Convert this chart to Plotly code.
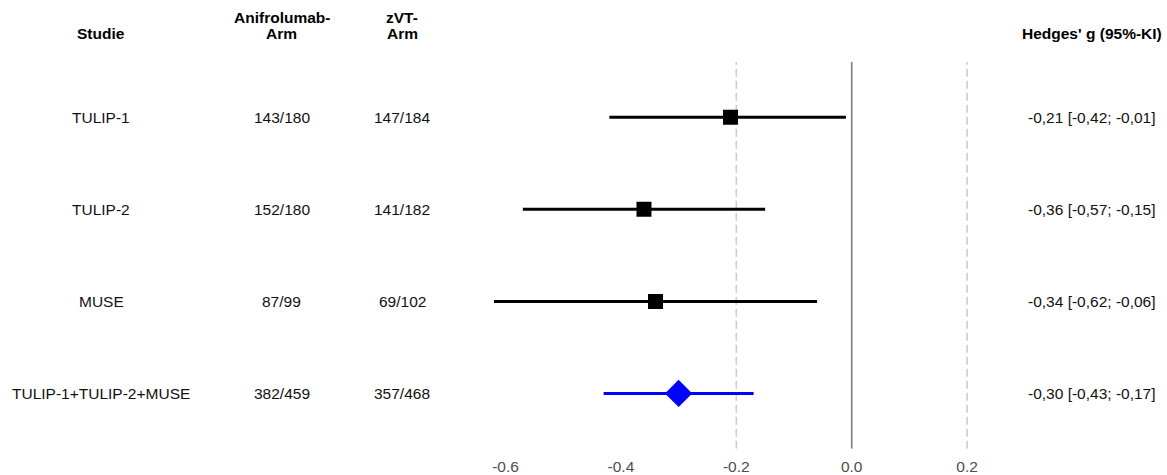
import plotly.graph_objects as go

# Forest plot: anifrolumab vs. zVT, Hedges' g with 95% CI
studies = ["TULIP-1", "TULIP-2", "MUSE", "TULIP-1+TULIP-2+MUSE"]
anifro_arm = ["143/180", "152/180", "87/99", "382/459"]
zvt_arm = ["147/184", "141/182", "69/102", "357/468"]
hedges_g = [-0.21, -0.36, -0.34, -0.30]
ci_low = [-0.42, -0.57, -0.62, -0.43]
ci_high = [-0.01, -0.15, -0.06, -0.17]
is_pooled = [False, False, False, True]

x_ticks = [-0.6, -0.4, -0.2, 0.0, 0.2]
ref_dashed = [-0.2, 0.2]

FONT = "Liberation Sans, Arial, sans-serif"
n = len(studies)
rows = list(range(n, 0, -1))  # top row first


def fmt(v):
    return f"{v:.2f}".replace(".", ",")


fig = go.Figure()

# studies as black squares, pooled estimate as blue diamond, each with CI bar
for i in range(n):
    color = "#0000ff" if is_pooled[i] else "#000000"
    fig.add_trace(go.Scatter(
        x=[hedges_g[i]], y=[rows[i]],
        mode="markers",
        marker=dict(symbol="diamond" if is_pooled[i] else "square",
                    size=21 if is_pooled[i] else 15,
                    color=color, line=dict(width=0)),
        error_x=dict(type="data", symmetric=False,
                     array=[ci_high[i] - hedges_g[i]],
                     arrayminus=[hedges_g[i] - ci_low[i]],
                     color=color, thickness=3, width=0),
        showlegend=False, hoverinfo="skip",
    ))

# reference lines
y_lo, y_hi = 0.4, n + 0.6
fig.add_shape(type="line", xref="x", yref="y", x0=0, x1=0, y0=y_lo, y1=y_hi,
              line=dict(color="#7f7f7f", width=1.6), layer="below")
for xv in ref_dashed:
    fig.add_shape(type="line", xref="x", yref="y", x0=xv, x1=xv, y0=y_lo, y1=y_hi,
                  line=dict(color="#cccccc", width=1.6, dash="8px,4px"), layer="below")

# text columns
col_x = {"study": 101 / 1167, "anifro": 281.5 / 1167, "zvt": 402 / 1167, "g": 1091.5 / 1167}
body_font = dict(family=FONT, size=15.5, color="#111111")
head_font = dict(family=FONT, size=15.5, color="#000000")

for i in range(n):
    r = rows[i]
    for key, txt in (("study", studies[i]), ("anifro", anifro_arm[i]), ("zvt", zvt_arm[i]),
                     ("g", f"{fmt(hedges_g[i])} [{fmt(ci_low[i])}; {fmt(ci_high[i])}]")):
        fig.add_annotation(x=col_x[key], y=r, xref="paper", yref="y", text=txt,
                           showarrow=False, xanchor="center", yanchor="middle",
                           font=body_font)

# headers
y_line2 = 1 - 34 / 475
y_line1 = 1 - 18 / 475
headers = [
    ("study", y_line2, "<b>Studie</b>"),
    ("anifro", y_line1, "<b>Anifrolumab-</b>"),
    ("anifro", y_line2, "<b>Arm</b>"),
    ("zvt", y_line1, "<b>zVT-</b>"),
    ("zvt", y_line2, "<b>Arm</b>"),
    ("g", y_line2, "<b>Hedges' g (95%-KI)</b>"),
]
for key, yy, txt in headers:
    fig.add_annotation(x=col_x[key], y=yy, xref="paper", yref="paper", text=txt,
                       showarrow=False, xanchor="center", yanchor="middle", font=head_font)

x_left, x_right = -0.65, 0.25
px0 = 851.7
scale = 577.0
fig.update_layout(
    width=1167, height=475,
    margin=dict(l=0, r=0, t=0, b=0),
    paper_bgcolor="white", plot_bgcolor="white",
    xaxis=dict(range=[x_left, x_right],
               domain=[(px0 + x_left * scale) / 1167, (px0 + x_right * scale) / 1167],
               tickvals=x_ticks, ticktext=[f"{v:.1f}" for v in x_ticks],
               showgrid=False, zeroline=False, showline=False,
               ticks="outside", ticklen=4, tickcolor="rgba(0,0,0,0)",
               tickfont=dict(family=FONT, size=15.5, color="#4d4d4d"),
               fixedrange=True),
    yaxis=dict(range=[y_lo, y_hi],
               domain=[1 - 453.5 / 475, 1 - 62.6 / 475],
               visible=False, fixedrange=True),
    showlegend=False,
)

fig.write_html("out.html")
